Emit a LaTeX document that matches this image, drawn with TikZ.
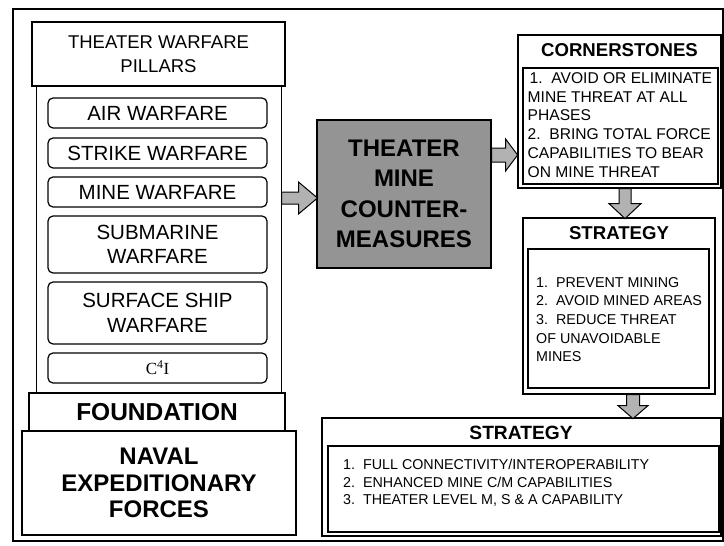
\documentclass[tikz,border=0pt]{standalone}
\usepackage{fontspec}
\setmainfont{Liberation Sans}
\newfontfamily\serifc{Liberation Serif}
\usetikzlibrary{calc}
\tikzset{
  box/.style={draw=black, line width=1.2pt, inner sep=0pt, align=center},
  pillar/.style={box, rounded corners=5pt, minimum width=219pt, font=\fontsize{20.5}{24.6}\selectfont},
  listtxt/.style={inner sep=0pt, align=left, anchor=west},
  ttl/.style={inner sep=0pt, font=\bfseries\fontsize{18.6}{22}\selectfont},
  arr/.style={draw=black, line width=1pt, fill=black!30},
}
\newcommand\rarr[5]{% start, length, headlength, shaft half, head half (rightwards)
  \draw[arr] (#1) ++(0,-#4) -- ++(#2-#3,0) -- ++(0,-#5+#4) -- ++(#3,#5) -- ++(-#3,#5) -- ++(0,-#5+#4) -- ++(-#2+#3,0) -- cycle;}
\newcommand\darr[5]{% start, length, headlength, shaft half, head half (downwards)
  \draw[arr] (#1) ++(-#4,0) -- ++(0,#2-#3) -- ++(-#5+#4,0) -- ++(#5,#3) -- ++(#5,-#3) -- ++(-#5+#4,0) -- ++(0,-#2+#3) -- cycle;}
\begin{document}
\begin{tikzpicture}[x=1pt,y=-1pt]
\useasboundingbox (0,0) rectangle (724,546);
\fill[white] (0,0) rectangle (724,546);
% outer frame
\draw[line width=1.8pt] (13,9) rectangle (723,541);

% left column
\node[draw, line width=1pt, minimum width=245pt, minimum height=307pt, inner sep=0pt] (col) at (158.5,239.5) {};
\node[box, line width=1.8pt, fill=white, minimum width=253pt, minimum height=64pt,
      font=\fontsize{18.5}{24}\selectfont] (pil) at (158.5,54) {THEATER WARFARE\\PILLARS};
\node[pillar, minimum height=30pt] (air) at (157.5,113) {AIR WARFARE};
\node[pillar, minimum height=30pt] (strike) at (157.5,153) {STRIKE WARFARE};
\node[pillar, minimum height=30pt] (mine) at (157.5,192) {MINE WARFARE};
\node[pillar, minimum height=57pt] (sub) at (157.5,244.5) {SUBMARINE\\WARFARE};
\node[pillar, minimum height=62pt] (surf) at (157.5,313) {SURFACE SHIP\\WARFARE};
\node[pillar, minimum height=30pt, font=\serifc\fontsize{17}{20}\selectfont] (c4i) at (157.5,368) {C\textsuperscript{4}I};
\node[box, fill=white, minimum width=256pt, minimum height=38pt,
      font=\bfseries\fontsize{24.5}{28}\selectfont] (found) at (157,412) {FOUNDATION};
\node[box, fill=white, minimum width=274pt, minimum height=104pt,
      font=\bfseries\fontsize{24}{26.5}\selectfont] (naval) at (159,483) {NAVAL\\EXPEDITIONARY\\FORCES};

% center
\node[box, fill=black!42, minimum width=174pt, minimum height=148pt,
      font=\bfseries\fontsize{24}{30.5}\selectfont] (tmcm) at (404,194) {THEATER\\MINE\\COUNTER-\\MEASURES};

% cornerstones
\node[box, minimum width=203pt, minimum height=153pt] (cs) at (619.5,111.5) {};
\node[box, minimum width=195pt, minimum height=116pt] (csin) at (620.5,126) {};
\node[ttl] (cst) at (619.5,50) {CORNERSTONES};
\node[listtxt, font=\fontsize{15.6}{18.8}\selectfont] (csl) at (527.5,125)
  {\hspace{2pt}1.\ \ AVOID OR ELIMINATE\\MINE THREAT AT ALL\\PHASES\\2.\ \ BRING TOTAL FORCE\\CAPABILITIES TO BEAR\\ON MINE THREAT};

% strategy (middle)
\node[box, minimum width=192pt, minimum height=176pt] (st) at (619,306) {};
\node[box, minimum width=181pt, minimum height=139pt] (stin) at (618.5,318.5) {};
\node[ttl] (stt) at (619,233) {STRATEGY};
\node[listtxt, font=\fontsize{14.3}{18.7}\selectfont] (stl) at (536,319.5)
  {1.\ \ PREVENT MINING\\2.\ \ AVOID MINED AREAS\\3.\ \ REDUCE THREAT\\OF UNAVOIDABLE\\MINES};

% strategy (bottom)
\node[box, minimum width=399pt, minimum height=118pt] (sb) at (521.5,477) {};
\node[box, minimum width=391pt, minimum height=86pt] (sbin) at (523.5,489) {};
\node[ttl, font=\bfseries\fontsize{19.2}{22}\selectfont] (sbt) at (521,433) {STRATEGY};
\node[listtxt, font=\fontsize{14.3}{17.5}\selectfont] (sbl) at (343,483)
  {1.\ \ FULL CONNECTIVITY/INTEROPERABILITY\\2.\ \ ENHANCED MINE C/M CAPABILITIES\\3.\ \ THEATER LEVEL M, S \& A CAPABILITY};

% block arrows
\coordinate (a1) at (col.east |- 0,198);
\coordinate (a2) at (tmcm.east |- 0,155);
\coordinate (a3) at (625,0 |- cs.south);
\coordinate (a4) at (633,0 |- st.south);
\rarr{a1}{36}{19}{6}{16}
\rarr{a2}{26}{12}{7}{16}
\darr{a3}{30}{15}{6}{16}
\darr{a4}{24}{13}{6.5}{15}
\end{tikzpicture}
\end{document}
